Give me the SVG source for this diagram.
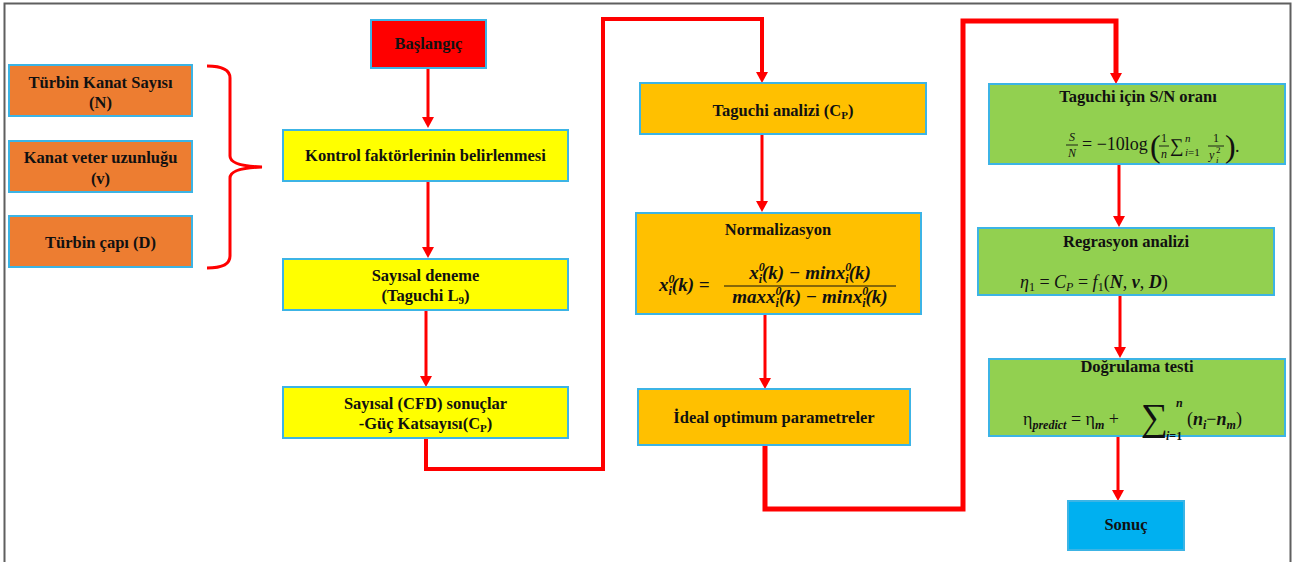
<svg xmlns="http://www.w3.org/2000/svg" width="1298" height="562" viewBox="0 0 1298 562">
<defs>
<style>
.box{stroke:#3CB4E5;stroke-width:2}
.t{font-family:"Liberation Serif","DejaVu Serif",serif;font-weight:bold;font-size:16.5px;fill:#111;text-anchor:middle}
.m{font-family:"Liberation Serif","DejaVu Serif",serif;fill:#111}
.i{font-style:italic}
.b{font-weight:bold}
.c{stroke:#FF0000;fill:none}
.a{stroke:#FF0000;stroke-width:3;fill:none}
</style>
<marker id="ah" markerUnits="userSpaceOnUse" markerWidth="14" markerHeight="14" refX="1" refY="6" orient="auto">
<path d="M0,0 L11,6 L0,12 z" fill="#FF0000"/>
</marker>
</defs>
<rect width="1298" height="562" fill="#ffffff"/>
<rect x="4.5" y="3.5" width="1286" height="580" fill="none" stroke="#5f5f5f" stroke-width="2"/>

<g id="connectors">
<path class="c" stroke-width="3" d="M207,66 Q230,66 230,78 V156 Q230,166 262,167 Q230,168 230,178 V256 Q230,268 207,268"/>
<line class="a" x1="428" y1="68" x2="428" y2="118" marker-end="url(#ah)"/>
<line class="a" x1="428" y1="181" x2="428" y2="248" marker-end="url(#ah)"/>
<line class="a" x1="426" y1="310" x2="426" y2="377" marker-end="url(#ah)"/>
<path class="c" stroke-width="4" d="M426,438 V469 H603 V19 H762 V73" marker-end="url(#ah)"/>
<line class="a" x1="762" y1="135" x2="762" y2="202" marker-end="url(#ah)"/>
<line class="a" x1="765" y1="314" x2="765" y2="379" marker-end="url(#ah)"/>
<path class="c" stroke-width="5" d="M765,445 V509 H963 V21 H1116 V74" marker-end="url(#ah)"/>
<line class="a" x1="1119" y1="164" x2="1119" y2="217" marker-end="url(#ah)"/>
<line class="a" x1="1120" y1="295" x2="1120" y2="348" marker-end="url(#ah)"/>
<line class="a" x1="1118" y1="436" x2="1118" y2="491" marker-end="url(#ah)"/>
</g>

<g id="turbin-kanat-sayisi">
<rect class="box" x="9" y="65" width="183" height="51" fill="#ED7D31"/>
<text class="t" x="100.5" y="88">Türbin Kanat Sayısı</text>
<text class="t" x="100.5" y="108">(N)</text>
</g>
<g id="kanat-veter">
<rect class="box" x="9" y="141" width="183" height="51" fill="#ED7D31"/>
<text class="t" x="100.5" y="163">Kanat veter uzunluğu</text>
<text class="t" x="100.5" y="184">(v)</text>
</g>
<g id="turbin-capi">
<rect class="box" x="9" y="216" width="183" height="51" fill="#ED7D31"/>
<text class="t" x="100.5" y="248">Türbin çapı (D)</text>
</g>

<g id="baslangic">
<rect class="box" x="371" y="20" width="115" height="48" fill="#FF0000"/>
<text class="t" x="428.5" y="49">Başlangıç</text>
</g>
<g id="kontrol">
<rect class="box" x="283" y="130" width="285" height="51" fill="#FFFF00"/>
<text class="t" x="425.5" y="161">Kontrol faktörlerinin belirlenmesi</text>
</g>
<g id="sayisal-deneme">
<rect class="box" x="283" y="259" width="285" height="51" fill="#FFFF00"/>
<text class="t" x="425.5" y="281">Sayısal deneme</text>
<text class="t" x="425.5" y="301">(Taguchi L<tspan font-size="11" dy="3">9</tspan><tspan dy="-3">)</tspan></text>
</g>
<g id="sayisal-cfd">
<rect class="box" x="283" y="387" width="285" height="51" fill="#FFFF00"/>
<text class="t" x="425.5" y="409">Sayısal (CFD) sonuçlar</text>
<text class="t" x="425.5" y="429">-Güç Katsayısı(C<tspan font-size="11" dy="3">P</tspan><tspan dy="-3">)</tspan></text>
</g>

<g id="taguchi-analizi">
<rect class="box" x="640" y="83" width="286" height="51" fill="#FFC000"/>
<text class="t" x="783" y="116">Taguchi analizi (C<tspan font-size="11" dy="3">P</tspan><tspan dy="-3">)</tspan></text>
</g>
<g id="normalizasyon">
<rect class="box" x="636" y="213" width="285" height="101" fill="#FFC000"/>
<text class="t" x="778" y="235">Normalizasyon</text>
<text class="m b i" x="659" y="291" style="font-size:19px">x<tspan font-size="12" dy="-8">0</tspan><tspan font-size="12" dx="-6" dy="12">i</tspan><tspan dy="-4">(k) =</tspan></text>
<text class="m b i" x="810" y="279" style="font-size:19px" text-anchor="middle">x<tspan font-size="12" dy="-8">0</tspan><tspan font-size="12" dx="-6" dy="12">i</tspan><tspan dy="-4">(k) − minx</tspan><tspan font-size="12" dy="-8">0</tspan><tspan font-size="12" dx="-6" dy="12">i</tspan><tspan dy="-4">(k)</tspan></text>
<line x1="724" y1="286" x2="896" y2="286" stroke="#111" stroke-width="1.2"/>
<text class="m b i" x="810" y="303" style="font-size:19px" text-anchor="middle">maxx<tspan font-size="12" dy="-8">0</tspan><tspan font-size="12" dx="-6" dy="12">i</tspan><tspan dy="-4">(k) − minx</tspan><tspan font-size="12" dy="-8">0</tspan><tspan font-size="12" dx="-6" dy="12">i</tspan><tspan dy="-4">(k)</tspan></text>
</g>
<g id="ideal">
<rect class="box" x="638" y="389" width="272" height="56" fill="#FFC000"/>
<text class="t" x="774" y="423">İdeal optimum parametreler</text>
</g>

<g id="sn-orani">
<rect class="box" x="989" y="84" width="296" height="80" fill="#92D050"/>
<text class="t" x="1138" y="102">Taguchi için S/N oranı</text>
<text class="m i" x="1072" y="141" style="font-size:12px" text-anchor="middle">S</text>
<line x1="1066" y1="145" x2="1078" y2="145" stroke="#111" stroke-width="0.9"/>
<text class="m i" x="1072" y="157" style="font-size:12px" text-anchor="middle">N</text>
<text class="m" x="1082" y="150" style="font-size:18px">= −10log</text>
<text class="m" x="1150" y="157" style="font-size:32px">(</text>
<text class="m" x="1164" y="142" style="font-size:12px" text-anchor="middle">1</text>
<line x1="1159" y1="146" x2="1169" y2="146" stroke="#111" stroke-width="0.9"/>
<text class="m i" x="1164" y="158" style="font-size:12px" text-anchor="middle">n</text>
<text class="m" x="1170" y="152" style="font-size:19px">∑</text>
<text class="m i" x="1185" y="142" style="font-size:11px">n</text>
<text class="m" x="1185" y="156" style="font-size:11px"><tspan class="i">i</tspan>=1</text>
<text class="m" x="1216" y="142" style="font-size:12px" text-anchor="middle">1</text>
<line x1="1208" y1="146" x2="1224" y2="146" stroke="#111" stroke-width="0.9"/>
<text class="m i" x="1209" y="159" style="font-size:12px">y</text>
<text class="m" x="1216" y="153" style="font-size:9px">2</text>
<text class="m i" x="1216" y="163" style="font-size:9px">i</text>
<text class="m" x="1225" y="157" style="font-size:32px">)</text>
<text class="m" x="1235" y="152" style="font-size:18px">.</text>
</g>

<g id="regresyon">
<rect class="box" x="978" y="228" width="296" height="67" fill="#92D050"/>
<text class="t" x="1126" y="247">Regrasyon analizi</text>
<text class="m" x="1020" y="288" style="font-size:18px"><tspan class="i">η</tspan><tspan font-size="12" dy="3">1</tspan><tspan dy="-3"> = </tspan><tspan class="i">C</tspan><tspan class="i" font-size="12" dy="3">P</tspan><tspan dy="-3"> = </tspan><tspan class="i">f</tspan><tspan font-size="12" dy="3">1</tspan><tspan dy="-3">(</tspan><tspan class="i b">N</tspan>, <tspan class="i b">v</tspan>, <tspan class="i b">D</tspan>)</text>
</g>

<g id="dogrulama">
<rect class="box" x="989" y="359" width="296" height="77" fill="#92D050"/>
<text class="t" x="1137" y="372">Doğrulama testi</text>
<text class="m" x="1023" y="425" style="font-size:18px">η<tspan class="i b" font-size="12" dy="4">predict</tspan><tspan dy="-4"> = η</tspan><tspan class="i b" font-size="12" dy="4">m</tspan><tspan dy="-4"> +</tspan></text>
<text class="m" x="1141" y="430" style="font-size:38px">∑</text>
<text class="m i b" x="1176" y="407" style="font-size:12px">n</text>
<text class="m b" x="1166" y="440" style="font-size:12px"><tspan class="i">i</tspan>=1</text>
<text class="m" x="1187" y="425" style="font-size:18px">(<tspan class="i b">n</tspan><tspan class="i b" font-size="12" dy="4">i</tspan><tspan dy="-4">−</tspan><tspan class="i b">n</tspan><tspan class="i b" font-size="12" dy="4">m</tspan><tspan dy="-4">)</tspan></text>
</g>

<g id="sonuc">
<rect class="box" x="1068" y="501" width="116" height="49" fill="#00B0F0"/>
<text class="t" x="1126" y="530">Sonuç</text>
</g>
</svg>
